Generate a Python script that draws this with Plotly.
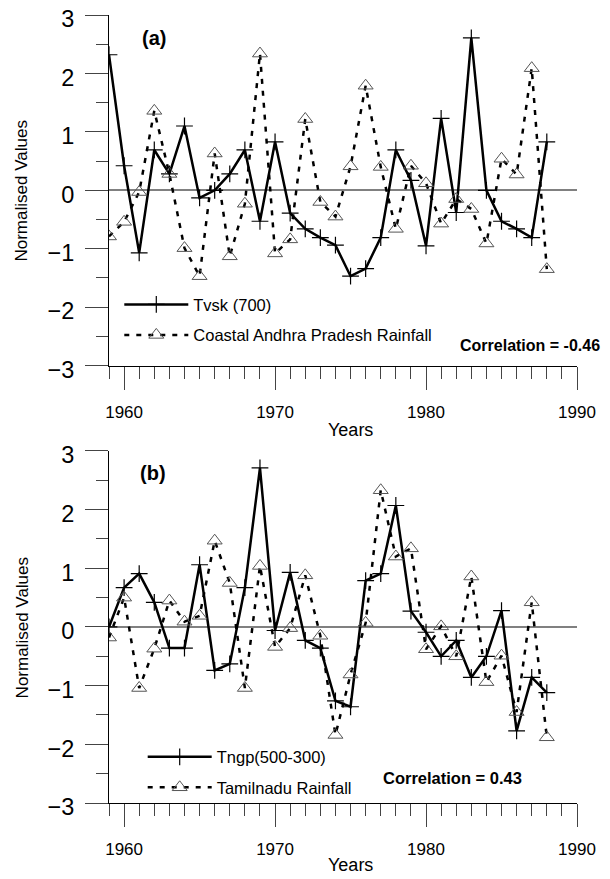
import plotly.graph_objects as go
from plotly.subplots import make_subplots

years = list(range(1959, 1989))

tvsk_700 = [2.32, 0.42, -1.07, 0.69, 0.28, 1.10, -0.13, 0.00, 0.28, 0.69,
            -0.53, 0.83, -0.39, -0.66, -0.81, -0.94, -1.47, -1.34, -0.81, 0.69,
            0.17, -0.95, 1.23, -0.38, 2.61, 0.00, -0.53, -0.66, -0.81, 0.83]
coastal_ap_rain = [-0.79, -0.54, -0.03, 1.36, 0.28, -0.99, -1.47, 0.63, -1.13, -0.23,
                   2.34, -1.08, -0.84, 1.22, -0.20, -0.45, 0.41, 1.79, 0.40, -0.66,
                   0.42, 0.12, -0.57, -0.15, -0.32, -0.91, 0.54, 0.27, 2.09, -1.35]
tngp_500_300 = [0.00, 0.67, 0.91, 0.42, -0.36, -0.36, 1.06, -0.74, -0.63, 0.67,
                2.71, -0.06, 0.93, -0.23, -0.36, -1.26, -1.36, 0.79, 0.91, 2.07,
                0.27, -0.09, -0.50, -0.23, -0.86, -0.50, 0.28, -1.77, -0.86, -1.12]
tamilnadu_rain = [-0.18, 0.50, -1.04, -0.37, 0.45, 0.09, 0.19, 1.47, 0.75, -1.04,
                  1.04, -0.34, -0.02, 0.88, -0.15, -1.84, -0.81, 0.07, 2.33, 1.20,
                  1.34, -0.38, 0.01, -0.50, 0.86, -0.94, -0.49, -1.45, 0.42, -1.88]

x_tickvals = [1960, 1970, 1980, 1990]
y_tickvals = [-3, -2, -1, 0, 1, 2, 3]

FONT = "Liberation Sans"

fig = make_subplots(rows=2, cols=1, vertical_spacing=0.1)

solid_style = dict(mode="lines+markers",
                   line=dict(color="black", width=2.5),
                   marker=dict(symbol="cross-thin", size=12, color="black",
                               line=dict(color="black", width=1.2)))
dash_style = dict(mode="lines+markers",
                  line=dict(color="black", width=2.5, dash="5px,7px"),
                  marker=dict(symbol="triangle-up-open", size=13, color="#555555",
                              line=dict(color="#555555", width=1)))

fig.add_trace(go.Scatter(x=years, y=tvsk_700, name="Tvsk (700)", legend="legend",
                         legendgroup="a1", **solid_style), row=1, col=1)
fig.add_trace(go.Scatter(x=years, y=coastal_ap_rain, name="Coastal Andhra Pradesh Rainfall",
                         legend="legend", legendgroup="a2", **dash_style), row=1, col=1)
fig.add_trace(go.Scatter(x=years, y=tngp_500_300, name="Tngp(500-300)", legend="legend2",
                         legendgroup="b1", **solid_style), row=2, col=1)
fig.add_trace(go.Scatter(x=years, y=tamilnadu_rain, name="Tamilnadu Rainfall",
                         legend="legend2", legendgroup="b2", **dash_style), row=2, col=1)

xax = dict(range=[1959, 1990], showgrid=False, showline=True, linecolor="black", linewidth=1,
           tickmode="array", tickvals=x_tickvals, ticks="outside", ticklen=23, tickwidth=1,
           tickcolor="#444444", tickfont=dict(family=FONT, size=17, color="black"),
           ticklabelstandoff=8, zeroline=False, automargin=False,
           minor=dict(dtick=1, tick0=1959, ticks="outside", ticklen=12, tickwidth=1,
                      tickcolor="#444444", showgrid=False))
yax = dict(range=[-3, 3], showgrid=False, showline=True, linecolor="black", linewidth=1,
           tickmode="array", tickvals=y_tickvals, ticks="outside", ticklen=23, tickwidth=1,
           tickcolor="#444444", tickfont=dict(family=FONT, size=23.5, color="black"),
           ticklabelstandoff=6, ticklabelshift=4, ticklabeloverflow="allow",
           zeroline=True, zerolinecolor="#808080", zerolinewidth=1.5,
           automargin=False,
           minor=dict(dtick=0.5, tick0=0, ticks="outside", ticklen=12, tickwidth=1,
                      tickcolor="#444444", showgrid=False))

fig.update_layout(
    width=602, height=871,
    margin=dict(l=101, r=33, t=6.5, b=75.5, autoexpand=False),
    paper_bgcolor="white", plot_bgcolor="white",
    font=dict(family=FONT, color="black"),
    xaxis=dict(domain=[0, 1], anchor="y", **xax),
    yaxis=dict(domain=[0.5551, 1.0], anchor="x", **yax),
    xaxis2=dict(domain=[0, 1], anchor="y2", **xax),
    yaxis2=dict(domain=[0.0, 0.4468], anchor="x2", **yax),
    legend=dict(x=0.022, y=0.6133, xanchor="left", yanchor="middle", bgcolor="rgba(0,0,0,0)",
                font=dict(family=FONT, size=16.5, color="black"), itemwidth=64,
                tracegroupgap=6, traceorder="grouped"),
    legend2=dict(x=0.072, y=0.0392, xanchor="left", yanchor="middle", bgcolor="rgba(0,0,0,0)",
                 font=dict(family=FONT, size=16.5, color="black"), itemwidth=64,
                 tracegroupgap=6, traceorder="grouped"),
    showlegend=True,
)

annots = [
    dict(text="<b>(a)</b>", x=0.0955, y=0.9713, size=20),
    dict(text="<b>(b)</b>", x=0.094, y=0.419, size=20),
    dict(text="<b>Correlation = -0.46</b>", x=0.9, y=0.581, size=16),
    dict(text="<b>Correlation = 0.43</b>", x=0.734, y=0.0316, size=16.5),
    dict(text="Years", x=0.517, y=0.4734, size=18),
    dict(text="Years", x=0.517, y=-0.0785, size=18),
]
for a in annots:
    fig.add_annotation(text=a["text"], x=a["x"], y=a["y"], xref="paper", yref="paper",
                       xanchor="center", yanchor="middle", showarrow=False,
                       font=dict(family=FONT, size=a["size"], color="black"))
for yy in [0.7772, 0.2228]:
    fig.add_annotation(text="Normalised Values", x=-0.186, y=yy, xref="paper", yref="paper",
                       xanchor="center", yanchor="middle", showarrow=False, textangle=-90,
                       font=dict(family=FONT, size=17, color="black"))

fig.write_html("out.html")
